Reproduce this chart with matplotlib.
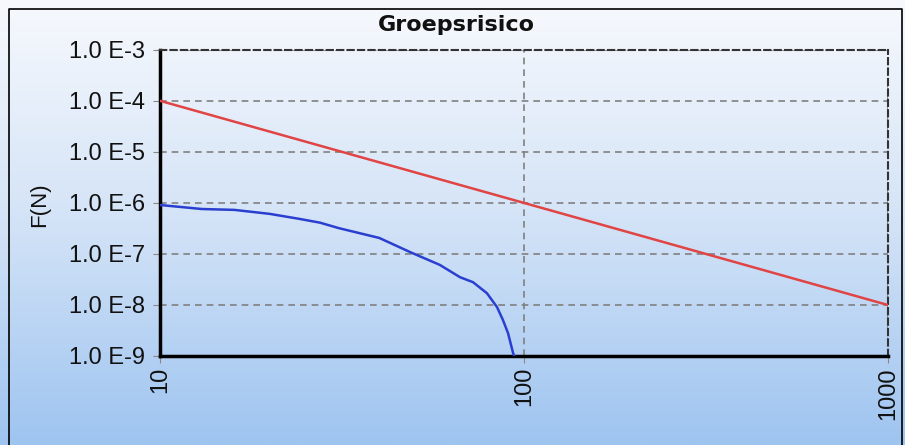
import matplotlib.pyplot as plt
import numpy as np
from matplotlib.colors import LinearSegmentedColormap

plt.rcParams['font.family'] = ['Liberation Sans', 'DejaVu Sans']

# data
norm_x = [10, 1000]
norm_y = [1e-4, 1e-8]

fn_x = [10, 13, 16, 20, 24, 27.5, 31, 40, 48.6, 58.7, 66.7, 72.4, 79.1, 84.3, 87.5, 90.4, 93.3, 94]
fn_y = [9.1e-7, 7.6e-7, 7.3e-7, 6.1e-7, 4.9e-7, 4.1e-7, 3.2e-7, 2.06e-7, 1.09e-7, 6.1e-8,
        3.5e-8, 2.8e-8, 1.7e-8, 9.1e-9, 5.1e-9, 2.8e-9, 1.15e-9, 1.0e-9]

yticks = [1e-9, 1e-8, 1e-7, 1e-6, 1e-5, 1e-4, 1e-3]
ylabels = ['1.0 E-9', '1.0 E-8', '1.0 E-7', '1.0 E-6', '1.0 E-5', '1.0 E-4', '1.0 E-3']
xticks = [10, 100, 1000]
xlabels = ['10', '100', '1000']

fig = plt.figure(figsize=(9.05, 4.45), dpi=100)

# gradient background, white at top to light blue at bottom
bg = fig.add_axes([0, 0, 1, 1], zorder=-10)
cmap = LinearSegmentedColormap.from_list('bg', ['#f7f9fd', '#d3e3f7', '#9ec4f0'])
grad = np.linspace(0, 1, 256).reshape(-1, 1)
bg.imshow(grad, aspect='auto', cmap=cmap, extent=[0, 1, 0, 1], origin='upper')
bg.set_xlim(0, 1)
bg.set_ylim(0, 1)
bg.axis('off')
bg.plot([0.01, 0.01, 0.997, 0.997], [-0.1, 0.98, 0.98, -0.1],
        color='black', lw=1.2, clip_on=False)

ax = fig.add_axes([0.177, 0.2, 0.804, 0.688])
ax.patch.set_alpha(0)
ax.set_xscale('log')
ax.set_yscale('log')
ax.set_xlim(10, 1000)
ax.set_ylim(1e-9, 1e-3)

ax.plot(norm_x, norm_y, color='#e04444', lw=1.8, zorder=3)
ax.plot(fn_x, fn_y, color='#2a3fcf', lw=1.8, zorder=3)

ax.set_xticks(xticks)
ax.set_xticklabels(xlabels, rotation=90, fontsize=17, color='#111111')
ax.set_yticks(yticks)
ax.set_yticklabels(ylabels, fontsize=17, color='#111111')
ax.minorticks_off()
ax.tick_params(axis='y', length=5, color='#888888', pad=6)
ax.tick_params(axis='x', length=5, color='#888888', pad=3)

ax.grid(True, color='#808080', ls=(0, (4, 3)), lw=1.2)

for s in ['top', 'right']:
    ax.spines[s].set_linestyle((0, (3, 2)))
    ax.spines[s].set_linewidth(1.5)
    ax.spines[s].set_color('#333333')
for s in ['left', 'bottom']:
    ax.spines[s].set_linewidth(2.5)
    ax.spines[s].set_color('black')

fig.text(0.044, 0.539, 'F(N)', rotation=90, ha='center', va='center',
         fontsize=16, color='#111111')
fig.text(0.504, 0.944, 'Groepsrisico', ha='center', va='center',
         fontsize=16, fontweight='bold', color='#111111', family='DejaVu Sans')

fig.savefig('out.png', dpi=100)
